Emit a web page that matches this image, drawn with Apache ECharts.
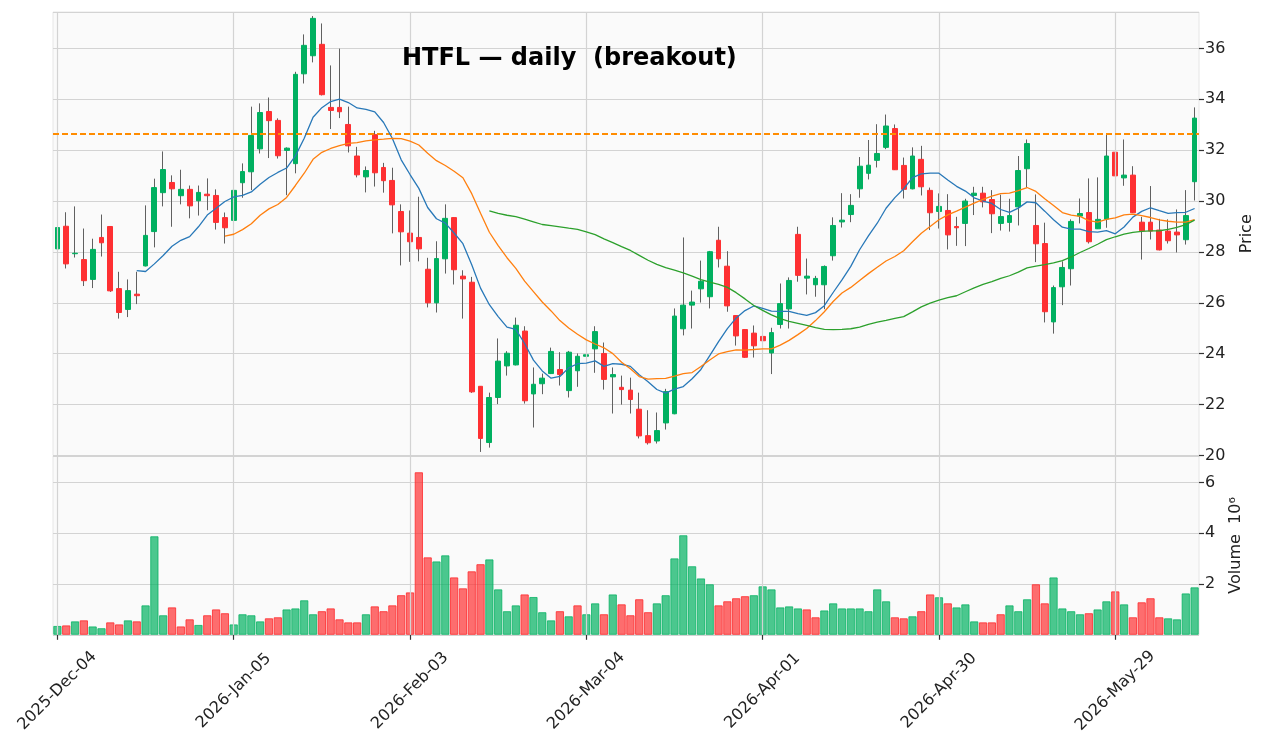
<!DOCTYPE html>
<html>
<head>
<meta charset="utf-8">
<script src="https://cdn.jsdelivr.net/npm/echarts@6/dist/echarts.min.js"></script>
<style>
html,body{margin:0;padding:0;background:#fff;}
#chart{width:1267px;height:747px;}
</style>
</head>
<body>
<div id="chart"></div>
<script>
const dates = [
'2025-Dec-04','2025-Dec-05','2025-Dec-08','2025-Dec-09','2025-Dec-10','2025-Dec-11','2025-Dec-12','2025-Dec-15','2025-Dec-16','2025-Dec-17',
'2025-Dec-18','2025-Dec-19','2025-Dec-22','2025-Dec-23','2025-Dec-24','2025-Dec-26','2025-Dec-29','2025-Dec-30','2025-Dec-31','2026-Jan-02',
'2026-Jan-05','2026-Jan-06','2026-Jan-07','2026-Jan-08','2026-Jan-09','2026-Jan-12','2026-Jan-13','2026-Jan-14','2026-Jan-15','2026-Jan-16',
'2026-Jan-20','2026-Jan-21','2026-Jan-22','2026-Jan-23','2026-Jan-26','2026-Jan-27','2026-Jan-28','2026-Jan-29','2026-Jan-30','2026-Feb-02',
'2026-Feb-03','2026-Feb-04','2026-Feb-05','2026-Feb-06','2026-Feb-09','2026-Feb-10','2026-Feb-11','2026-Feb-12','2026-Feb-13','2026-Feb-17',
'2026-Feb-18','2026-Feb-19','2026-Feb-20','2026-Feb-23','2026-Feb-24','2026-Feb-25','2026-Feb-26','2026-Feb-27','2026-Mar-02','2026-Mar-03',
'2026-Mar-04','2026-Mar-05','2026-Mar-06','2026-Mar-09','2026-Mar-10','2026-Mar-11','2026-Mar-12','2026-Mar-13','2026-Mar-16','2026-Mar-17',
'2026-Mar-18','2026-Mar-19','2026-Mar-20','2026-Mar-23','2026-Mar-24','2026-Mar-25','2026-Mar-26','2026-Mar-27','2026-Mar-30','2026-Mar-31',
'2026-Apr-01','2026-Apr-02','2026-Apr-06','2026-Apr-07','2026-Apr-08','2026-Apr-09','2026-Apr-10','2026-Apr-13','2026-Apr-14','2026-Apr-15',
'2026-Apr-16','2026-Apr-17','2026-Apr-20','2026-Apr-21','2026-Apr-22','2026-Apr-23','2026-Apr-24','2026-Apr-27','2026-Apr-28','2026-Apr-29',
'2026-Apr-30','2026-May-01','2026-May-04','2026-May-05','2026-May-06','2026-May-07','2026-May-08','2026-May-11','2026-May-12','2026-May-13',
'2026-May-14','2026-May-15','2026-May-18','2026-May-19','2026-May-20','2026-May-21','2026-May-22','2026-May-26','2026-May-27','2026-May-28',
'2026-May-29','2026-Jun-01','2026-Jun-02','2026-Jun-03','2026-Jun-04','2026-Jun-05','2026-Jun-08','2026-Jun-09','2026-Jun-10','2026-Jun-11'
];

const opens = [
28.12,29.01,27.93,27.70,26.92,28.57,29.00,26.56,25.74,26.34,
27.45,28.80,30.33,30.73,30.21,30.46,30.01,30.27,30.22,29.35,
29.24,30.72,31.15,32.05,33.52,33.17,31.99,31.47,35.00,35.71,
36.16,33.68,33.68,33.01,31.77,30.95,32.61,31.32,30.81,29.59,
28.74,28.57,27.32,26.00,27.73,29.35,27.05,26.81,22.72,20.51,
22.28,23.52,23.56,24.89,22.42,22.82,23.22,23.38,22.55,23.33,
23.90,24.19,24.01,23.09,22.68,22.57,21.82,20.78,20.57,21.28,
21.64,24.98,25.91,26.55,26.24,28.46,27.44,25.50,24.95,24.81,
24.68,24.03,25.15,25.76,28.69,26.97,26.71,26.71,27.85,29.18,
29.47,30.48,31.09,31.60,32.11,32.85,31.40,30.48,31.64,30.42,
29.59,29.63,29.00,29.12,30.22,30.31,30.06,29.12,29.16,29.77,
31.27,29.04,28.33,25.25,26.63,27.34,29.41,29.55,28.91,29.29,
31.92,30.91,31.02,29.17,29.17,28.86,28.82,28.78,28.48,30.76
];
const highs = [
29.08,29.56,29.79,28.92,28.52,29.47,29.02,27.22,26.92,27.22,
29.83,30.88,31.95,31.01,31.23,30.61,30.61,30.89,30.46,29.55,
30.97,31.48,33.71,33.84,34.07,33.25,32.11,35.08,36.55,37.27,
36.98,35.33,35.99,33.71,32.13,31.36,32.76,31.50,31.31,29.87,
29.63,30.17,27.77,28.42,29.87,29.36,27.28,27.02,22.72,22.47,
24.60,24.10,25.42,25.08,23.46,23.22,24.24,24.06,24.11,24.01,
24.60,25.08,24.44,23.46,23.14,23.06,22.47,21.78,21.69,22.62,
25.78,28.57,26.48,27.66,28.04,28.99,28.03,25.51,24.96,25.11,
25.34,25.02,26.76,27.00,28.99,27.74,27.06,27.47,29.36,30.31,
30.27,31.73,32.40,33.02,33.40,33.01,31.71,32.11,32.17,30.53,
30.30,30.27,29.38,30.09,30.56,30.56,30.43,30.25,30.09,31.77,
32.42,30.26,29.15,26.68,27.63,29.28,30.10,30.89,30.93,32.63,
32.49,32.42,31.37,29.38,30.59,29.30,29.28,29.67,30.43,33.68
];
const lows = [
27.59,27.35,27.78,26.66,26.58,27.82,26.43,25.38,25.44,25.95,
27.43,28.18,29.79,28.99,29.87,29.32,29.43,29.64,28.88,28.33,
29.22,30.13,30.43,31.87,31.69,31.67,30.23,31.09,34.62,35.45,
34.15,32.83,33.26,31.91,30.93,30.34,30.57,30.33,28.73,27.47,
27.61,27.63,25.82,25.62,27.15,26.72,25.38,22.46,20.14,20.31,
22.02,23.14,23.54,22.04,21.10,22.41,23.20,22.75,22.28,22.70,
23.88,23.25,22.59,21.65,22.00,21.65,20.67,20.43,20.47,21.02,
21.62,24.72,24.99,26.01,25.78,27.39,25.65,24.32,23.84,23.85,
23.85,23.20,24.99,24.99,26.83,26.33,26.24,25.75,27.66,28.96,
29.17,30.13,30.85,31.32,32.04,31.22,30.10,30.46,30.22,28.86,
28.92,28.10,28.24,28.23,29.45,29.75,28.74,28.84,28.80,29.04,
30.53,27.60,25.23,24.79,25.91,26.68,29.12,28.33,28.90,28.95,
30.84,30.60,29.53,27.70,28.49,28.06,28.33,27.98,28.29,30.02
];
const closes = [
28.96,27.53,27.95,26.87,28.10,28.36,26.47,25.62,26.48,26.28,
28.65,30.53,31.24,30.48,30.46,29.81,30.34,30.21,29.16,28.95,
30.42,31.16,32.58,33.48,33.16,31.78,32.08,34.98,36.12,37.18,
34.18,33.56,33.51,32.17,31.03,31.20,31.11,30.80,29.85,28.79,
28.40,28.12,26.00,27.74,29.32,27.30,26.94,22.50,20.67,22.28,
23.71,24.02,25.12,22.15,22.80,23.04,24.09,23.18,24.06,23.90,
23.96,24.87,22.99,23.18,22.59,22.20,20.77,20.50,20.98,22.51,
25.48,25.91,26.03,26.85,28.01,27.73,25.88,24.70,23.86,24.31,
24.51,24.83,25.97,26.88,27.08,27.05,26.96,27.43,29.04,29.25,
29.83,31.37,31.41,31.87,32.95,31.23,30.46,31.77,30.56,29.54,
29.79,28.67,28.95,30.00,30.31,29.97,29.50,29.39,29.43,31.20,
32.26,28.32,25.65,26.60,27.39,29.20,29.51,28.40,29.28,31.77,
30.99,31.02,29.54,28.83,28.82,28.08,28.44,28.67,29.43,33.26
];
// volume in millions of shares
const volumeMillions = [
0.35,0.37,0.53,0.57,0.33,0.26,0.49,0.41,0.57,0.53,
1.16,3.88,0.77,1.08,0.33,0.61,0.39,0.77,1.00,0.85,
0.41,0.81,0.77,0.53,0.65,0.69,1.00,1.04,1.36,0.81,
0.93,1.04,0.61,0.49,0.49,0.81,1.12,0.93,1.16,1.56,
1.67,6.40,3.05,2.89,3.13,2.26,1.83,2.50,2.78,2.97,
1.79,0.93,1.16,1.59,1.49,0.89,0.57,0.93,0.73,1.16,
0.81,1.24,0.81,1.59,1.20,0.77,1.40,0.89,1.24,1.56,
3.01,3.92,2.70,2.22,1.99,1.16,1.32,1.44,1.52,1.56,
1.91,1.79,1.08,1.12,1.04,1.00,0.69,0.96,1.24,1.04,
1.04,1.04,0.93,1.79,1.32,0.69,0.65,0.73,0.93,1.59,
1.48,1.24,1.08,1.20,0.53,0.49,0.49,0.81,1.16,0.93,
1.40,1.99,1.24,2.26,1.04,0.93,0.81,0.85,1.00,1.32,
1.71,1.20,0.69,1.28,1.44,0.69,0.65,0.61,1.63,1.87
];
const breakoutLevel = 32.63;
const maPeriods = [10, 20, 50];
const priceTicks = [20, 22, 24, 26, 28, 30, 32, 34, 36];
const volumeTicks = [2, 4, 6];
const tickEvery = 20;

const UP = '#00b060', DOWN = '#fe3032', WICK = '#606060';
const maColors = ['#2878b8', '#ff7f0e', '#2ca02c'];
const FONT = 'DejaVu Sans';

function movingAverage(vals, n) {
  return vals.map((v, i) => {
    if (i < n - 1) return null;
    let s = 0;
    for (let k = i - n + 1; k <= i; k++) s += vals[k];
    return +(s / n).toFixed(4);
  });
}

const wickData = dates.map((d, i) => [opens[i], closes[i], lows[i], highs[i]]);
const bodyData = dates.map((d, i) => [opens[i], closes[i], Math.min(opens[i], closes[i]), Math.max(opens[i], closes[i])]);
const volData = volumeMillions.map((v, i) => {
  const up = i === 0 ? closes[0] >= opens[0] : closes[i] >= closes[i - 1];
  return {
    value: v,
    itemStyle: {
      color: up ? 'rgba(0,176,96,0.7)' : 'rgba(254,48,50,0.7)',
      borderColor: up ? 'rgba(0,176,96,0.75)' : 'rgba(254,48,50,0.85)',
      borderWidth: 1
    }
  };
});
const gridDates = dates.filter((d, i) => i % tickEvery === 0);
const vLines = gridDates.map(d => ({ xAxis: d }));
const gridLineStyle = { color: '#d3d3d3', width: 1.2, type: 'solid' };

const chart = echarts.init(document.getElementById('chart'), null, { renderer: 'canvas' });
const option = {
  animation: false,
  backgroundColor: '#ffffff',
  textStyle: { fontFamily: FONT },
  title: {
    text: 'HTFL \u2014 daily  (breakout)',
    left: 397, top: 42,
    textStyle: { fontFamily: FONT, fontSize: 24, fontWeight: 'bold', color: '#000' }
  },
  grid: [
    { left: 53, right: 68, top: 12, height: 443.5, show: true, backgroundColor: '#fafafa', borderColor: '#e6e6e6', borderWidth: 1 },
    { left: 53, right: 68, top: 456, height: 178.8, show: true, backgroundColor: '#fafafa', borderColor: '#e6e6e6', borderWidth: 1 }
  ],
  xAxis: [
    { type: 'category', gridIndex: 0, data: dates, boundaryGap: true,
      axisLine: { show: false }, axisTick: { show: false }, axisLabel: { show: false }, splitLine: { show: false } },
    { type: 'category', gridIndex: 1, data: dates, boundaryGap: true,
      axisLine: { show: false },
      axisTick: { show: true, interval: tickEvery - 1, alignWithLabel: true, length: 5, lineStyle: { color: '#333', width: 1.2 } },
      axisLabel: { interval: tickEvery - 1, rotate: 45, align: 'center', verticalAlign: 'middle', margin: 56,
        fontSize: 16, color: '#222', fontFamily: FONT },
      splitLine: { show: false } }
  ],
  yAxis: [
    { type: 'value', gridIndex: 0, position: 'right', min: priceTicks[0], max: 37.43, interval: 2,
      axisLine: { show: false },
      axisTick: { show: true, length: 5, lineStyle: { color: '#333', width: 1.2 } },
      axisLabel: { fontSize: 16, color: '#222', margin: 6, showMaxLabel: false, fontFamily: FONT },
      splitLine: { show: true, lineStyle: gridLineStyle },
      name: 'Price', nameLocation: 'middle', nameRotate: 90, nameGap: 40,
      nameTextStyle: { fontSize: 16, color: '#222', fontFamily: FONT } },
    { type: 'value', gridIndex: 1, position: 'right', min: 0, max: 7.04, interval: 2,
      axisLine: { show: false },
      axisTick: { show: true, length: 5, lineStyle: { color: '#333', width: 1.2 } },
      axisLabel: { fontSize: 16, color: '#222', margin: 6, showMinLabel: false, showMaxLabel: false, fontFamily: FONT },
      splitLine: { show: true, lineStyle: gridLineStyle },
      name: 'Volume  10\u2076', nameLocation: 'middle', nameRotate: 90, nameGap: 29,
      nameTextStyle: { fontSize: 16, color: '#222', fontFamily: FONT } }
  ],
  series: [
    { type: 'line', name: 'vgrid0', xAxisIndex: 0, yAxisIndex: 0, data: [], z: 0, silent: true,
      markLine: { silent: true, symbol: ['none', 'none'], label: { show: false }, lineStyle: gridLineStyle, data: vLines, animation: false } },
    { type: 'line', name: 'vgrid1', xAxisIndex: 1, yAxisIndex: 1, data: [], z: 0, silent: true,
      markLine: { silent: true, symbol: ['none', 'none'], label: { show: false }, lineStyle: gridLineStyle, data: vLines, animation: false } },
    { type: 'candlestick', name: 'wick', xAxisIndex: 0, yAxisIndex: 0, data: wickData, barWidth: 1, z: 3,
      itemStyle: { color: WICK, color0: WICK, borderColor: WICK, borderColor0: WICK, borderWidth: 1 } },
    { type: 'candlestick', name: 'body', xAxisIndex: 0, yAxisIndex: 0, data: bodyData, barWidth: '60%', z: 4,
      itemStyle: { color: UP, color0: DOWN, borderColor: UP, borderColor0: DOWN, borderWidth: 1 },
      markLine: { silent: true, symbol: ['none', 'none'], label: { show: false },
        lineStyle: { color: '#ff8c00', width: 2, type: [6, 3] }, data: [{ yAxis: breakoutLevel }] } },
    ...maPeriods.map((p, k) => ({
      type: 'line', name: 'MA' + p, xAxisIndex: 0, yAxisIndex: 0, data: movingAverage(closes, p),
      showSymbol: false, symbol: 'none', z: 5, lineStyle: { color: maColors[k], width: 1.3 }, connectNulls: false
    })),
    { type: 'bar', name: 'Volume', xAxisIndex: 1, yAxisIndex: 1, data: volData, barWidth: '94%', z: 3 }
  ]
};
chart.setOption(option);
</script>
</body>
</html>
